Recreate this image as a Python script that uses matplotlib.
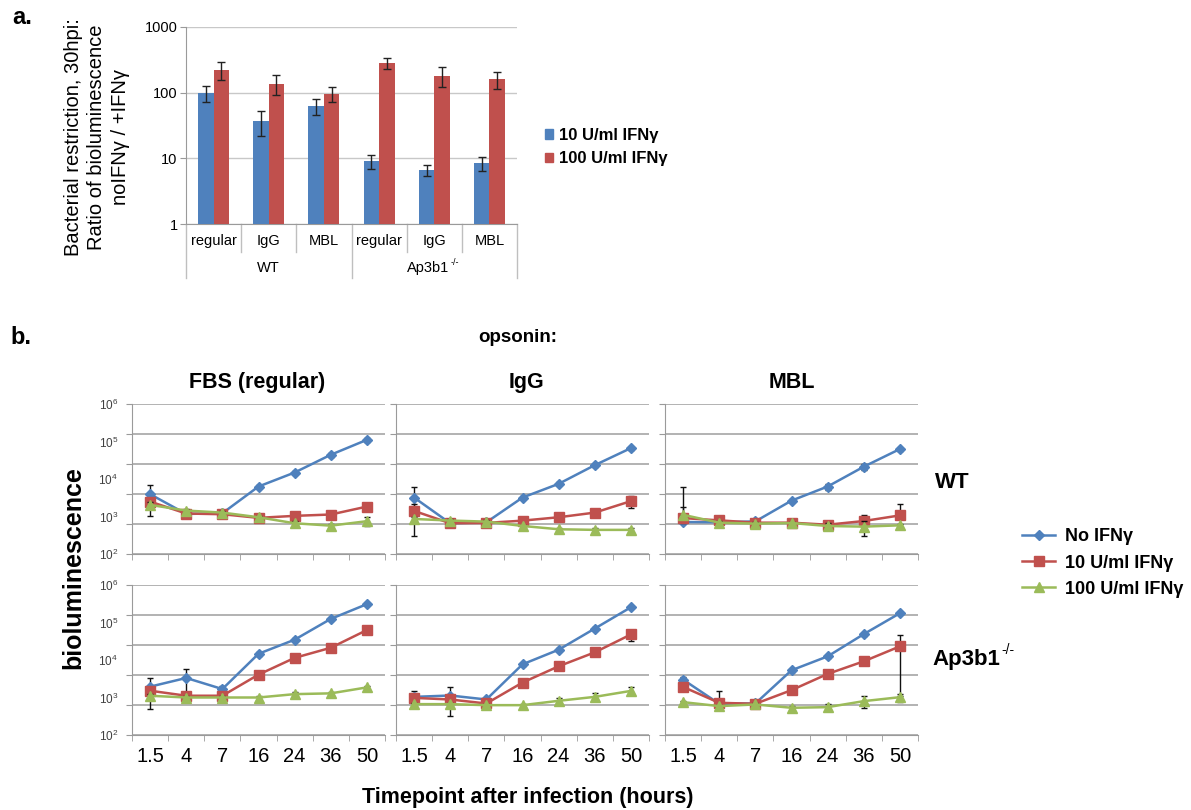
import numpy as np
import matplotlib
matplotlib.use('Agg')
import matplotlib.pyplot as plt
import matplotlib.transforms as mtransforms
from matplotlib.ticker import FixedLocator, FixedFormatter, NullFormatter
from matplotlib.lines import Line2D
from matplotlib.patches import Patch

plt.rcParams['font.family'] = ['Liberation Sans', 'DejaVu Sans']
plt.rcParams['mathtext.fontset'] = 'custom'
plt.rcParams['mathtext.rm'] = 'Liberation Sans'
plt.rcParams['mathtext.bf'] = 'Liberation Sans:bold'
plt.rcParams['mathtext.it'] = 'Liberation Sans:italic'

BLUE = '#4F81BD'
RED = '#C0504D'
GREEN = '#9BBB59'
GRID = '#A6A6A6'
AXIS = '#9A9A9A'

# ---- panel a: restriction ratio at 30 hpi ----
ratio_cats = ['regular', 'IgG', 'MBL', 'regular', 'IgG', 'MBL']
ratio_groups = ['WT', 'Ap3b1']
ratio_10 = [100, 37, 63, 9.0, 6.7, 8.5]
ratio_10_err = [28, 15, 17, 2.1, 1.3, 2.1]
ratio_100 = [224, 137, 97, 283, 182, 162]
ratio_100_err = [70, 46, 26, 55, 60, 48]

# ---- panel b: bioluminescence time courses ----
timepoints = ['1.5', '4', '7', '16', '24', '36', '50']
series_labels = ['No IFNγ', '10 U/ml IFNγ', '100 U/ml IFNγ']

wt_fbs = [[3940, 1170, 1220, 6300, 14900, 44300, 111000],
          [2500, 1200, 1150, 920, 1040, 1130, 1840],
          [2040, 1440, 1270, 955, 660, 570, 750]]
wt_fbs_err = [[2900, 150, 100, 700, 1500, 5000, 15000],
              [500, 150, 100, 150, 100, 100, 250],
              [400, 150, 100, 100, 80, 70, 200]]

wt_igg = [[3200, 660, 700, 3200, 7430, 23400, 66700],
          [1410, 660, 675, 775, 955, 1270, 2570],
          [860, 780, 730, 560, 457, 440, 440]]
wt_igg_err = [[2900, 60, 80, 300, 700, 2000, 6000],
              [750, 60, 60, 80, 100, 320, 850],
              [100, 60, 60, 50, 40, 40, 60]]

wt_mbl = [[713, 700, 740, 2650, 6300, 21300, 63000],
          [908, 789, 684, 684, 604, 757, 1070],
          [1110, 684, 645, 670, 558, 537, 582]]
wt_mbl_err = [[1070, 60, 60, 250, 1100, 3500, 6000],
              [250, 60, 60, 80, 100, 350, 1100],
              [4860, 60, 80, 60, 120, 235, 50]]

ko_fbs = [[1945, 3320, 1680, 14650, 34800, 124700, 309000],
          [1517, 1114, 1114, 4070, 11400, 21200, 63000],
          [1114, 1000, 1000, 1000, 1230, 1290, 1860]]
ko_fbs_err = [[1450, 2500, 300, 1500, 3000, 10000, 20000],
              [200, 100, 100, 400, 1000, 2000, 6000],
              [150, 100, 100, 100, 150, 150, 200]]

ko_igg = [[1040, 1130, 885, 7670, 18800, 69000, 255000],
          [977, 885, 692, 2500, 6800, 16000, 48000],
          [665, 665, 625, 625, 816, 1040, 1500]]
ko_igg_err = [[460, 800, 100, 700, 1500, 5000, 15000],
              [250, 150, 70, 250, 600, 1500, 15000],
              [60, 60, 50, 50, 150, 250, 350]]

ko_mbl = [[3000, 680, 692, 5320, 12500, 49000, 177000],
          [1920, 721, 680, 1570, 4250, 9220, 23100],
          [752, 589, 652, 532, 553, 800, 1020]]
ko_mbl_err = [[500, 60, 60, 400, 1000, 4000, 10000],
              [300, 740, 60, 150, 500, 2000, 22000],
              [60, 50, 60, 70, 100, 280, 250]]

W, H = 1191, 810
fig = plt.figure(figsize=(W / 100, H / 100), dpi=100)


def fx(px):
    return px / W


def fy(py):
    return 1 - py / H


def knockout_label(ax, x, y, size, bold, **kw):
    # "Ap3b1" followed by a small raised "-/-"
    t = ax.text(x, y, 'Ap3b1', fontsize=size, fontweight='bold' if bold else 'normal', **kw)
    ax.annotate('-/-', xy=(1.0, 0.62), xycoords=t, xytext=(1, 0), textcoords='offset points',
                fontsize=size * 0.62, va='bottom', ha='left', annotation_clip=False)
    return t


# ---------------- panel a ----------------
ax_a = fig.add_axes([fx(186), fy(224), fx(331), 197 / H])
ax_a.set_yscale('log')
x = np.arange(len(ratio_cats))
bw = 0.28
ekw = dict(ecolor='#222222', elinewidth=1, capsize=3, capthick=1)
ax_a.bar(x - bw / 2, ratio_10, bw, yerr=ratio_10_err, color=BLUE, error_kw=ekw, zorder=3)
ax_a.bar(x + bw / 2, ratio_100, bw, yerr=ratio_100_err, color=RED, error_kw=ekw, zorder=3)
ax_a.set_ylim(1, 1000)
ax_a.set_xlim(-0.5, len(ratio_cats) - 0.5)
ax_a.yaxis.set_major_locator(FixedLocator([1, 10, 100, 1000]))
ax_a.yaxis.set_major_formatter(FixedFormatter(['1', '10', '100', '1000']))
ax_a.yaxis.set_minor_locator(FixedLocator([]))
ax_a.grid(axis='y', color='#C8C8C8', lw=1, zorder=0)
ax_a.set_xticks(x)
ax_a.set_xticklabels(ratio_cats)
ax_a.tick_params(axis='x', length=0, pad=7, labelsize=10.5)
ax_a.tick_params(axis='y', length=4, color=AXIS, labelsize=10.5, pad=2)
for s in ('top', 'right'):
    ax_a.spines[s].set_visible(False)
for s in ('left', 'bottom'):
    ax_a.spines[s].set_color(AXIS)

# category / group separators below the axis
trans = mtransforms.blended_transform_factory(ax_a.transData, ax_a.transAxes)
for b in np.arange(-0.5, len(ratio_cats), 1.0):
    depth = -0.275 if b in (-0.5, 2.5, 5.5) else -0.142
    ax_a.plot([b, b], [0, depth], transform=trans, color='#BFBFBF', lw=1, clip_on=False)
ax_a.text(1, -0.225, ratio_groups[0], transform=trans, ha='center', va='center', fontsize=10.5)
knockout_label(ax_a, 3.88, -0.225, 10.5, False, transform=trans, ha='center', va='center')

fig.text(fx(97), fy(137), 'Bacterial restriction, 30hpi:\nRatio of bioluminescence\nnoIFNγ / +IFNγ',
         rotation=90, ha='center', va='center', multialignment='center', fontsize=14.5,
         linespacing=1.33)
fig.legend(handles=[Patch(color=BLUE), Patch(color=RED)],
           labels=['10 U/ml IFNγ', '100 U/ml IFNγ'],
           loc='center left', bbox_to_anchor=(fx(530), fy(147)), frameon=False,
           prop=dict(weight='bold', size=12), handlelength=0.5, handleheight=0.5,
           handletextpad=0.35, labelspacing=0.5)
fig.text(fx(12), fy(18), 'a.', fontsize=17, fontweight='bold', va='center')

# ---------------- panel b ----------------
colors = [BLUE, RED, GREEN]
markers = ['D', 's', '^']
msizes = [5.5, 7, 7.5]
col_left = [132, 396, 665]
col_w = 253
row_top = [404, 585]
row_h = 150
panels = [[(wt_fbs, wt_fbs_err), (wt_igg, wt_igg_err), (wt_mbl, wt_mbl_err)],
          [(ko_fbs, ko_fbs_err), (ko_igg, ko_igg_err), (ko_mbl, ko_mbl_err)]]
decades = [1e2, 1e3, 1e4, 1e5, 1e6]
decade_labels = [r'$10^{2}$', r'$10^{3}$', r'$10^{4}$', r'$10^{5}$', r'$10^{6}$']
tx = np.arange(len(timepoints))

for r in range(2):
    for c in range(3):
        ax = fig.add_axes([fx(col_left[c]), fy(row_top[r] + row_h), fx(col_w), row_h / H])
        ax.set_yscale('log')
        means, errs = panels[r][c]
        for k in range(3):
            m = np.array(means[k], dtype=float)
            e = np.array(errs[k], dtype=float)
            lo = np.where(e < m, e, 0)
            ax.errorbar(tx, m, yerr=[lo, e], color=colors[k], marker=markers[k], ms=msizes[k],
                        mec=colors[k], lw=1.8, ecolor='#111111', elinewidth=1, capsize=2.5,
                        capthick=1, zorder=3 + k)
        ax.set_ylim(1e2, 1e6)
        ax.set_xlim(-0.5, len(timepoints) - 0.5)
        ax.yaxis.remove_overlapping_locs = False
        ax.yaxis.set_major_locator(FixedLocator(10 ** np.linspace(2, 6, 6)))
        ax.yaxis.set_major_formatter(NullFormatter())
        ax.yaxis.set_minor_locator(FixedLocator(decades))
        if c == 0:
            ax.yaxis.set_minor_formatter(FixedFormatter(decade_labels))
        else:
            ax.yaxis.set_minor_formatter(NullFormatter())
        ax.tick_params(axis='y', which='major', length=4, color=AXIS)
        ax.tick_params(axis='y', which='minor', length=0, pad=10, labelsize=8.5, labelcolor='#404040')
        ax.grid(axis='y', which='major', color=GRID, lw=1.2, zorder=0)
        ax.set_xticks(tx)
        ax.set_xticks(np.arange(-0.5, len(timepoints), 1.0), minor=True)
        ax.tick_params(axis='x', which='major', length=0, pad=9, labelsize=14.5)
        ax.tick_params(axis='x', which='minor', length=4, color=AXIS)
        if r == 1:
            ax.set_xticklabels(timepoints)
        else:
            ax.set_xticklabels([])
        for s in ('top', 'right'):
            ax.spines[s].set_visible(False)
        for s in ('left', 'bottom'):
            ax.spines[s].set_color(AXIS)

for title, cx in zip(['FBS (regular)', 'IgG', 'MBL'], [257, 527, 792]):
    fig.text(fx(cx), fy(383), title, ha='center', va='center', fontsize=15.5, fontweight='bold')
fig.text(fx(518), fy(337), 'opsonin:', ha='center', va='center', fontsize=13.5, fontweight='bold')
fig.text(fx(10), fy(338), 'b.', fontsize=17, fontweight='bold', va='center')
fig.text(fx(935), fy(482), 'WT', fontsize=16, fontweight='bold', va='center')
knockout_label(ax, fx(932), fy(660), 16, True, va='center', transform=fig.transFigure)
fig.text(fx(73), fy(568), 'bioluminescence', rotation=90, ha='center', va='center',
         fontsize=18, fontweight='bold')
fig.text(fx(528), fy(797), 'Timepoint after infection (hours)', ha='center', va='center',
         fontsize=15.5, fontweight='bold')

handles = [Line2D([], [], color=colors[k], marker=markers[k], ms=msizes[k], lw=1.8)
           for k in range(3)]
fig.legend(handles=handles, labels=series_labels, loc='center left',
           bbox_to_anchor=(fx(1006), fy(563)), frameon=False,
           prop=dict(weight='bold', size=13), handlelength=1.8, handletextpad=0.55,
           labelspacing=0.5)

fig.savefig('out.png', dpi=100)
